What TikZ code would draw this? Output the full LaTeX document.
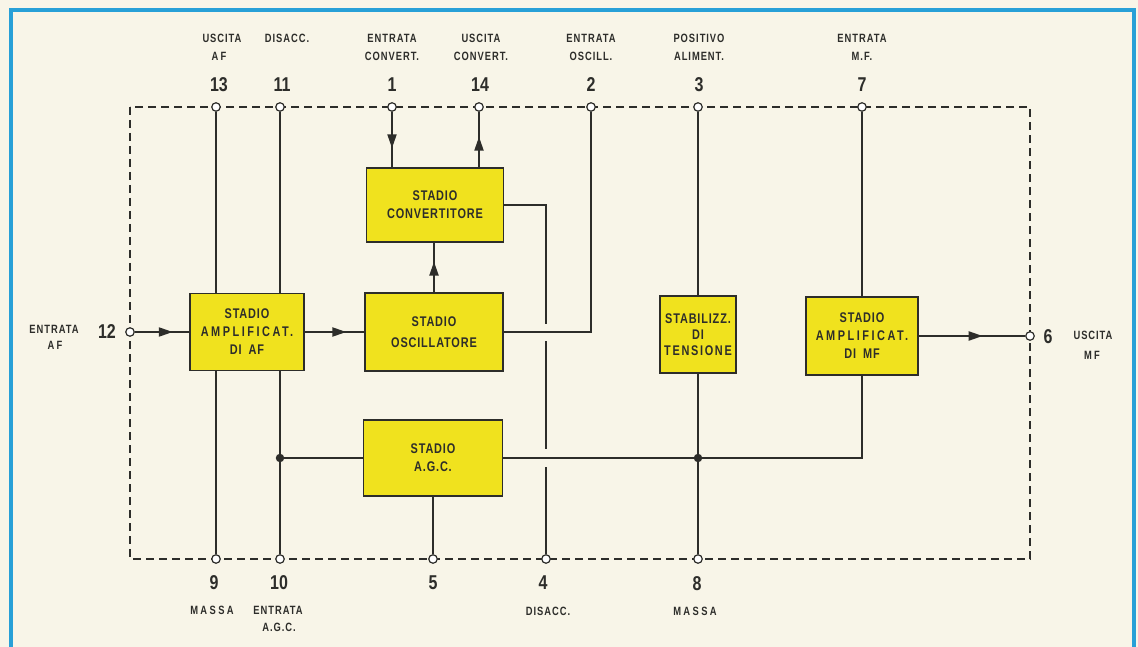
\documentclass[tikz,border=0pt]{standalone}
\usepackage{fontspec}
\setmainfont{Liberation Sans}
\newfontfamily\fsNum{Liberation Sans}[FakeStretch=0.8]
\newfontfamily\fsBox{Liberation Sans}[FakeStretch=0.78,LetterSpace=6]
\newfontfamily\fsBoxW{Liberation Sans}[FakeStretch=0.78,LetterSpace=18]
\newfontfamily\fsBoxM{Liberation Sans}[FakeStretch=0.78,LetterSpace=12]
\newfontfamily\fsLab{Liberation Sans}[FakeStretch=0.78,LetterSpace=8]
\newfontfamily\fsLabW{Liberation Sans}[FakeStretch=0.78,LetterSpace=20]
\usetikzlibrary{arrows.meta,decorations.markings}
\definecolor{paper}{RGB}{248,245,232}
\definecolor{boxy}{RGB}{240,226,30}
\definecolor{linec}{RGB}{45,45,42}
\definecolor{frameb}{RGB}{40,160,215}
\newcommand\tNum{\fsNum\bfseries\fontsize{20}{22}\selectfont}
\newcommand\tBox{\fsBox\bfseries\fontsize{14}{18}\selectfont}
\newcommand\tLab{\fsLab\bfseries\fontsize{12}{14}\selectfont}
\newcommand\tLabW{\fsLabW\bfseries\fontsize{12}{14}\selectfont}
\begin{document}
\begin{tikzpicture}[x=1pt,y=-1pt,
  blk/.style={draw=linec, line width=1.9, fill=boxy, align=center, inner sep=0, font=\tBox, text=linec},
  term/.style={circle, draw=linec, fill=white, line width=1.2, inner sep=0, minimum size=8.5},
  jdot/.style={circle, fill=linec, inner sep=0, minimum size=8.5},
  wire/.style={color=linec, line width=2.1},
  num/.style={font=\tNum, inner sep=0, text=linec},
  lab/.style={font=\tLab, inner sep=0, text=linec},
  labw/.style={font=\tLabW, inner sep=0, text=linec},
  arrowat/.style={postaction={decorate}, decoration={markings, mark=at position #1 with {\arrow{Triangle[length=14pt,width=9pt]}}}}
]
\path[fill=paper] (0,0) rectangle (1138,647);
\useasboundingbox (0,0) rectangle (1138,647);
% frame
\draw[frameb, line width=4] (10.5,647) -- (10.5,10) -- (1134,10) -- (1134,647);
% module outline
\draw[linec, line width=1.3, dash pattern=on 8 off 5] (130,107) rectangle (1030,559);

% blocks
\node[blk, minimum width=114, minimum height=77] (amp) at (247,332)
  {STADIO\\{\fsBoxW\bfseries AMPLIFICAT.}\\DI\hspace{7pt}AF};
\node[blk, minimum width=137, minimum height=74] (conv) at (435,205)
  {STADIO\\CONVERTITORE};
\node[blk, minimum width=138, minimum height=78] (osc) at (434,332)
  {STADIO\\[3pt]OSCILLATORE};
\node[blk, minimum width=139, minimum height=76] (agc) at (433,458)
  {STADIO\\A.G.C.};
\node[blk, minimum width=76, minimum height=77, font=\fsBox\bfseries\fontsize{14}{16}\selectfont] (stab) at (698,334.5)
  {STABILIZZ.\\DI\\{\fsBoxM\bfseries TENSIONE}};
\node[blk, minimum width=112, minimum height=78] (mf) at (862,336)
  {STADIO\\{\fsBoxW\bfseries AMPLIFICAT.}\\DI\hspace{7pt}MF};

% terminals
\node[term] (p13) at (216,107) {};
\node[term] (p11) at (280,107) {};
\node[term] (p1) at (392,107) {};
\node[term] (p14) at (479,107) {};
\node[term] (p2) at (591,107) {};
\node[term] (p3) at (698,107) {};
\node[term] (p7) at (862,107) {};
\node[term] (p9) at (216,559) {};
\node[term] (p10) at (280,559) {};
\node[term] (p5) at (433,559) {};
\node[term] (p4) at (546,559) {};
\node[term] (p8) at (698,559) {};
\node[term] (p12) at (130,332) {};
\node[term] (p6) at (1030,336) {};

% junctions and crossing gaps
\node[jdot] (d10) at (p10 |- agc.west) {};
\node[jdot] (d8) at (p8 |- agc.east) {};
\coordinate (g1a) at (546,324);
\coordinate (g1b) at (546,341);
\coordinate (g2a) at (546,449);
\coordinate (g2b) at (546,467);

% wires
\draw[wire] (p13) -- (p13 |- amp.north);
\draw[wire] (p11) -- (p11 |- amp.north);
\draw[wire] (amp.south -| p9) -- (p9);
\draw[wire] (amp.south -| p10) -- (p10);
\draw[wire] (d10) -- (agc.west);
\draw[wire, arrowat=0.7] (p12) -- (amp.west);
\draw[wire, arrowat=0.7] (amp.east) -- (osc.west);
\draw[wire, arrowat=0.62] (osc.north) -- (osc.north |- conv.south);
\draw[wire, arrowat=0.66] (p1) -- (p1 |- conv.north);
\draw[wire, arrowat=0.55] (p14 |- conv.north) -- (p14);
\draw[wire] (conv.east) -| (g1a);
\draw[wire] (g1b) -- (g2a);
\draw[wire] (g2b) -- (p4);
\draw[wire] (osc.east) -| (p2);
\draw[wire] (p3) -- (p3 |- stab.north);
\draw[wire] (stab.south) -- (p8);
\draw[wire] (agc.east) -| (mf.south);
\draw[wire] (p7) -- (p7 |- mf.north);
\draw[wire, arrowat=0.6] (mf.east) -- (p6);
\draw[wire] (agc.south) -- (p5);

% pin numbers
\node[num] (n13) at (219,85) {13};
\node[num] (n11) at (282,85) {11};
\node[num] (n1) at (392,85) {1};
\node[num] (n14) at (480,85) {14};
\node[num] (n2) at (591,85) {2};
\node[num] (n3) at (699,85) {3};
\node[num] (n7) at (862,85) {7};
\node[num] (n9) at (214,583) {9};
\node[num] (n10) at (279,583) {10};
\node[num] (n5) at (433,583) {5};
\node[num] (n4) at (543,583) {4};
\node[num] (n8) at (697,584) {8};
\node[num] (n12) at (107,332) {12};
\node[num] (n6) at (1048,337) {6};

% labels
\node[lab] (l13a) at (222,38) {USCITA};
\node[labw] (l13b) at (219,56) {AF};
\node[lab] (l11) at (287,38) {DISACC.};
\node[lab] (l1a) at (392,38) {ENTRATA};
\node[lab] (l1b) at (392,56) {CONVERT.};
\node[lab] (l14a) at (481,38) {USCITA};
\node[lab] (l14b) at (481,56) {CONVERT.};
\node[lab] (l2a) at (591,38) {ENTRATA};
\node[lab] (l2b) at (591,56) {OSCILL.};
\node[lab] (l3a) at (699,38) {POSITIVO};
\node[lab] (l3b) at (699,56) {ALIMENT.};
\node[lab] (l7a) at (862,38) {ENTRATA};
\node[lab] (l7b) at (862,56) {M.F.};
\node[labw] (l9) at (212,610) {MASSA};
\node[lab] (l10a) at (278,610) {ENTRATA};
\node[lab] (l10b) at (279,627) {A.G.C.};
\node[lab] (l4) at (548,611) {DISACC.};
\node[labw] (l8) at (695,611) {MASSA};
\node[lab] (l12a) at (54,329) {ENTRATA};
\node[labw] (l12b) at (55,345) {AF};
\node[lab] (l6a) at (1093,335) {USCITA};
\node[labw] (l6b) at (1092,355) {MF};
\end{tikzpicture}
\end{document}
